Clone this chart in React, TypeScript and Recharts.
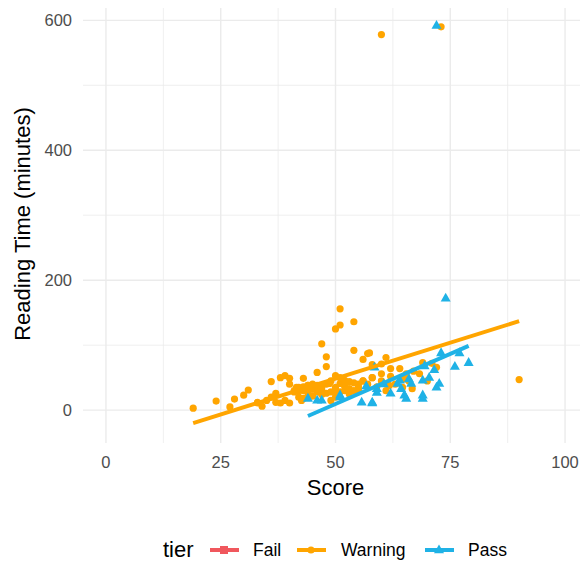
import { ScatterChart, Scatter, XAxis, YAxis, ReferenceLine } from 'recharts';

// Warning tier (orange circles)
const warningScore = [
  19, 24, 27, 28, 30, 31, 33, 34, 35, 36, 37, 37, 38, 38, 39, 39, 40, 40, 41.5, 42, 42.6, 43, 44, 44,
  45, 46, 46, 46.5, 47, 48, 48, 48, 48.7, 49, 50, 50, 50, 50, 51, 51, 51, 52, 52, 54, 54, 56, 57,
  57.4, 58, 60, 60, 61, 61.7, 62, 64, 64.6, 65.4, 66.7, 68.3, 69, 71, 72, 60, 73, 90, 55, 53, 45,
  41, 43, 47, 49, 52, 53, 55, 56, 58, 59, 44, 47, 50, 53, 36, 33, 40, 42,
  41, 42, 43, 44, 45, 46, 47, 48, 49, 50, 51, 52, 53, 54, 55, 56, 57, 58, 60, 62, 63, 65, 66,
  67, 70, 61, 54, 51, 45, 43,
];
const warningMinutes = [
  3, 14, 5, 17, 23, 31, 11, 6, 15, 44, 26, 12, 50, 11, 53, 15, 49, 11, 35, 20, 15, 49, 26, 30,
  33, 58, 38, 35, 102, 82, 67, 26, 41, 15, 125, 53, 35, 20, 131, 156, 41, 46, 30, 136, 92, 78, 87,
  88, 70, 71, 56, 81, 38, 64, 64, 35, 56, 33, 56, 73, 72, 66, 578, 590, 47, 40, 28, 22,
  28, 36, 24, 28, 37, 44, 30, 45, 50, 36, 38, 31, 30, 25, 20, 12, 40, 30,
  30, 35, 30, 38, 40, 28, 35, 40, 45, 30, 28, 38, 33, 30, 35, 45, 40, 50, 45, 52, 40, 48, 45,
  60, 45, 30, 42, 50, 22, 18,
];

// Pass tier (blue triangles)
const passScore = [
  72, 74, 73, 77, 76, 79, 71.5, 69.4, 69, 66, 66.5, 72, 72.6, 69, 69, 65, 64.3, 63.5, 64, 59, 58,
  65.4, 51, 55.7, 58, 59, 58.5, 56.7, 44, 47, 51, 46, 62, 70.4, 60.5,
];
const passMinutes = [
  592, 172, 88, 88, 67, 73, 62, 68, 46, 48, 41, 35, 41, 23, 18, 23, 33, 41, 46, 33, 12,
  18, 23, 12, 11, 27, 66, 37, 18, 15, 20, 15, 26, 50, 40,
];

// fitted lines (ends)
const warningTrendScore = [19, 90];
const warningTrendMinutes = [-20, 137];
const passTrendScore = [44, 79];
const passTrendMinutes = [-9, 99];

const xTicks = [0, 25, 50, 75, 100];
const xMinor = [12.5, 37.5, 62.5, 87.5];
const yTicks = [0, 200, 400, 600];
const yMinor = [100, 300, 500];

const tiers = ['Fail', 'Warning', 'Pass'];

const ORANGE = '#FFA500';
const BLUE = '#1FB2E6';
const RED = '#F0575D';
const GRID = '#EBEBEB';
const FONT = '"Liberation Sans", Arial, sans-serif';

const zip = (xs: number[], ys: number[]) => xs.map((x, i) => ({ score: x, minutes: ys[i] }));

const warningData = zip(warningScore, warningMinutes);
const passData = zip(passScore, passMinutes);
const warningTrend = zip(warningTrendScore, warningTrendMinutes);
const passTrend = zip(passTrendScore, passTrendMinutes);

const Dot = (props: any) => <circle cx={props.cx} cy={props.cy} r={3.6} fill={ORANGE} />;
const Tri = (props: any) => {
  const { cx, cy } = props;
  return <polygon points={`${cx},${cy - 5.6} ${cx - 5},${cy + 3.2} ${cx + 5},${cy + 3.2}`} fill={BLUE} />;
};
const NoShape = () => <g />;

const tickStyle = { fill: '#4D4D4D', fontSize: 16.5, fontFamily: FONT };

function LegendKey({ x, tier }: { x: number; tier: string }) {
  const color = tier === 'Fail' ? RED : tier === 'Warning' ? ORANGE : BLUE;
  const cx = x + 14;
  const cy = 550;
  return (
    <g>
      <line x1={x} x2={x + 29} y1={cy} y2={cy} stroke={color} strokeWidth={4} />
      {tier === 'Fail' && <rect x={cx - 4} y={cy - 4} width={8} height={8} fill={color} />}
      {tier === 'Warning' && <circle cx={cx} cy={cy} r={3.6} fill={color} />}
      {tier === 'Pass' && (
        <polygon points={`${cx},${cy - 5.6} ${cx - 5},${cy + 3.2} ${cx + 5},${cy + 3.2}`} fill={color} />
      )}
    </g>
  );
}

export default function App() {
  const keyX = [210, 297, 425];
  const labelX = [253, 341, 468];
  return (
    <div style={{ position: 'relative', width: 588, height: 563, margin: '-8px 0 0 -8px', background: '#fff' }}>
      <ScatterChart width={588} height={563} margin={{ top: 5, right: 0, bottom: 60, left: 0 }}>
        {xMinor.map((v) => (
          <ReferenceLine key={'xm' + v} x={v} stroke={GRID} strokeWidth={0.8} />
        ))}
        {yMinor.map((v) => (
          <ReferenceLine key={'ym' + v} y={v} stroke={GRID} strokeWidth={0.8} />
        ))}
        {xTicks.map((v) => (
          <ReferenceLine key={'x' + v} x={v} stroke={GRID} strokeWidth={1.4} />
        ))}
        {yTicks.map((v) => (
          <ReferenceLine key={'y' + v} y={v} stroke={GRID} strokeWidth={1.4} />
        ))}
        <XAxis
          type="number"
          dataKey="score"
          domain={[-5, 105]}
          ticks={xTicks}
          allowDataOverflow
          axisLine={false}
          tickLine={false}
          tickSize={0}
          tickMargin={13}
          height={60}
          tick={tickStyle}
          label={{ value: 'Score', position: 'insideBottom', offset: 8, fill: '#000', fontSize: 22, fontFamily: FONT }}
        />
        <YAxis
          type="number"
          dataKey="minutes"
          domain={[-50.6, 623.6]}
          ticks={yTicks}
          allowDataOverflow
          axisLine={false}
          tickLine={false}
          tickSize={0}
          tickMargin={11}
          width={83}
          tick={tickStyle}
          label={{
            value: 'Reading Time (minutes)',
            angle: -90,
            position: 'insideLeft',
            offset: 22,
            fill: '#000',
            fontSize: 22,
            fontFamily: FONT,
            style: { textAnchor: 'middle' },
          }}
        />
        <Scatter name="Warning" data={warningData} shape={Dot} isAnimationActive={false} />
        <Scatter name="Pass" data={passData} shape={Tri} isAnimationActive={false} />
        <Scatter
          name="Warning fit"
          data={warningTrend}
          shape={NoShape}
          line={{ stroke: ORANGE, strokeWidth: 4 }}
          isAnimationActive={false}
        />
        <Scatter
          name="Pass fit"
          data={passTrend}
          shape={NoShape}
          line={{ stroke: BLUE, strokeWidth: 4 }}
          isAnimationActive={false}
        />
      </ScatterChart>
      <svg width={588} height={563} style={{ position: 'absolute', left: 0, top: 0, pointerEvents: 'none' }}>
        <text x={163} y={557} fontSize={22} fontFamily={FONT} fill="#000">
          tier
        </text>
        {tiers.map((t, i) => (
          <g key={t}>
            <LegendKey x={keyX[i]} tier={t} />
            <text x={labelX[i]} y={556} fontSize={17.5} fontFamily={FONT} fill="#000">
              {t}
            </text>
          </g>
        ))}
      </svg>
    </div>
  );
}
